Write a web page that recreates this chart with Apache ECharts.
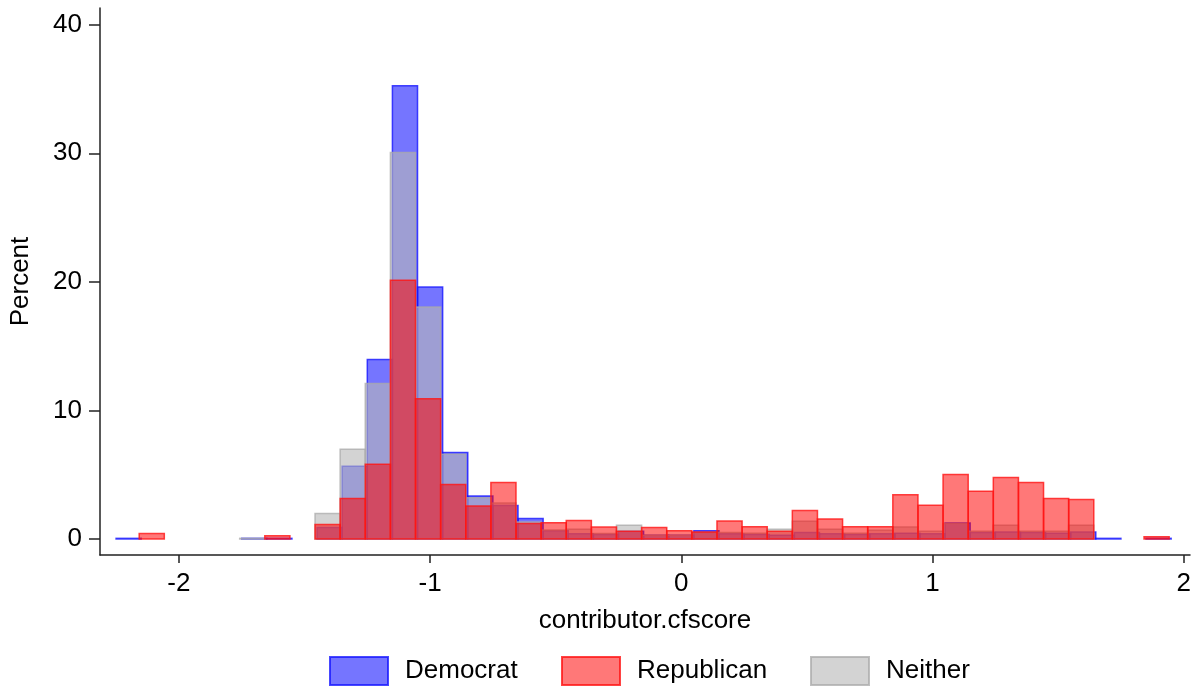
<!DOCTYPE html>
<html>
<head>
<meta charset="utf-8">
<script src="https://cdn.jsdelivr.net/npm/echarts@6/dist/echarts.min.js"></script>
<style>
  html, body { margin: 0; padding: 0; background: #fff; }
  #chart { width: 1201px; height: 690px; }
</style>
</head>
<body>
<div id="chart"></div>
<script>
// Histogram bins of contributor.cfscore, in percent per group (bin width 0.1)
const binWidth = 0.1;

const democratStart = -2.25;
const democratPct = [
  0.05, 0, 0, 0, 0, 0.05, 0.05, 0, 0.9, 5.66,
  13.96, 35.25, 19.6, 6.72, 3.35, 2.6, 1.59, 0.65, 0.4, 0.35,
  0.6, 0.3, 0.3, 0.65, 0.4, 0.35, 0.3, 0.5, 0.4, 0.35,
  0.4, 0.45, 0.4, 1.25, 0.5, 0.55, 0.5, 0.45, 0.55, 0.05,
  0, 0.05
];

const republicanStart = -2.158;
const republicanPct = [
  0.42, 0, 0, 0, 0, 0.25, 0, 1.12, 3.14, 5.81,
  20.13, 10.9, 4.23, 2.57, 4.39, 1.2, 1.27, 1.43, 0.93, 0.6,
  0.89, 0.65, 0.55, 1.4, 0.96, 0.6, 2.21, 1.56, 0.96, 0.96,
  3.45, 2.62, 5.01, 3.71, 4.78, 4.39, 3.14, 3.07, 0, 0,
  0.18
];

const neitherStart = -1.758;
const neitherPct = [
  0.05, 0, 0, 1.98, 6.98, 12.1, 30.07, 18.05, 6.6, 3.2,
  2.8, 1.33, 0.7, 0.75, 0.42, 1.07, 0.3, 0.3, 0.5, 0.5,
  0.45, 0.75, 1.38, 0.75, 0.45, 0.68, 0.93, 0.6, 1.2, 0.6,
  1.07, 0.6, 0.6, 1.07
];

const xTicks = [-2, -1, 0, 1, 2];
const yTicks = [0, 10, 20, 30, 40];

// Turn a start edge + list of heights into [left, right, height] bars
function toBins(start, heights) {
  const out = [];
  heights.forEach((h, i) => {
    if (h > 0) {
      const x0 = start + i * binWidth;
      out.push([x0, x0 + binWidth, h]);
    }
  });
  return out;
}

function renderBar(params, api) {
  const p0 = api.coord([api.value(0), api.value(2)]);
  const p1 = api.coord([api.value(1), 0]);
  return {
    type: 'rect',
    shape: { x: p0[0], y: p0[1], width: p1[0] - p0[0], height: p1[1] - p0[1] },
    style: api.style()
  };
}

const font = 'Liberation Sans, Arial, Helvetica, sans-serif';
const fontSize = 26;

const groups = [
  { name: 'Democrat', start: democratStart, pct: democratPct,
    fill: 'rgba(0,0,255,0.54)', stroke: 'rgba(20,20,255,0.78)', z: 2 },
  { name: 'Neither', start: neitherStart, pct: neitherPct,
    fill: 'rgba(184,184,184,0.62)', stroke: 'rgba(170,170,170,0.75)', z: 3 },
  { name: 'Republican', start: republicanStart, pct: republicanPct,
    fill: 'rgba(255,0,0,0.53)', stroke: 'rgba(255,20,20,0.8)', z: 4 }
];

const chart = echarts.init(document.getElementById('chart'), null, { renderer: 'canvas' });

const legendCommon = {
  bottom: 4,
  padding: 0,
  itemWidth: 58,
  itemHeight: 28,
  icon: 'rect',
  selectedMode: false,
  textStyle: { fontFamily: font, fontSize: fontSize, color: '#000', padding: [0, 0, 0, 12] }
};

chart.setOption({
  animation: false,
  backgroundColor: '#fff',
  grid: { left: 100, top: 8, right: 11, bottom: 135, containLabel: false, outerBoundsMode: 'none' },
  legend: [
    Object.assign({ left: 329, data: ['Democrat'] }, legendCommon),
    Object.assign({ left: 561, data: ['Republican'] }, legendCommon),
    Object.assign({ left: 810, data: ['Neither'] }, legendCommon)
  ],
  xAxis: {
    type: 'value',
    min: -2.314,
    max: 2.025,
    name: 'contributor.cfscore',
    nameLocation: 'middle',
    nameGap: 53,
    nameTextStyle: { fontFamily: font, fontSize: fontSize, color: '#000' },
    axisLine: { show: true, onZero: false, lineStyle: { color: '#222', width: 1.5 } },
    axisTick: { show: true, length: 8, customValues: xTicks, lineStyle: { color: '#222', width: 1.5 } },
    axisLabel: { customValues: xTicks, margin: 16, fontFamily: font, fontSize: fontSize, color: '#000' },
    splitLine: { show: false }
  },
  yAxis: {
    type: 'value',
    min: -1.245,
    max: 41.3,
    name: 'Percent',
    nameLocation: 'middle',
    nameGap: 66,
    nameTextStyle: { fontFamily: font, fontSize: fontSize, color: '#000' },
    axisLine: { show: true, onZero: false, lineStyle: { color: '#222', width: 1.5 } },
    axisTick: { show: true, length: 11, customValues: yTicks, lineStyle: { color: '#222', width: 1.5 } },
    axisLabel: { customValues: yTicks, margin: 18, fontFamily: font, fontSize: fontSize, color: '#000' },
    splitLine: { show: false }
  },
  series: groups.map(g => ({
    type: 'custom',
    name: g.name,
    z: g.z,
    renderItem: renderBar,
    encode: { x: [0, 1], y: 2 },
    itemStyle: { color: g.fill, borderColor: g.stroke, borderWidth: 1.5 },
    data: toBins(g.start, g.pct)
  }))
});
</script>
</body>
</html>
